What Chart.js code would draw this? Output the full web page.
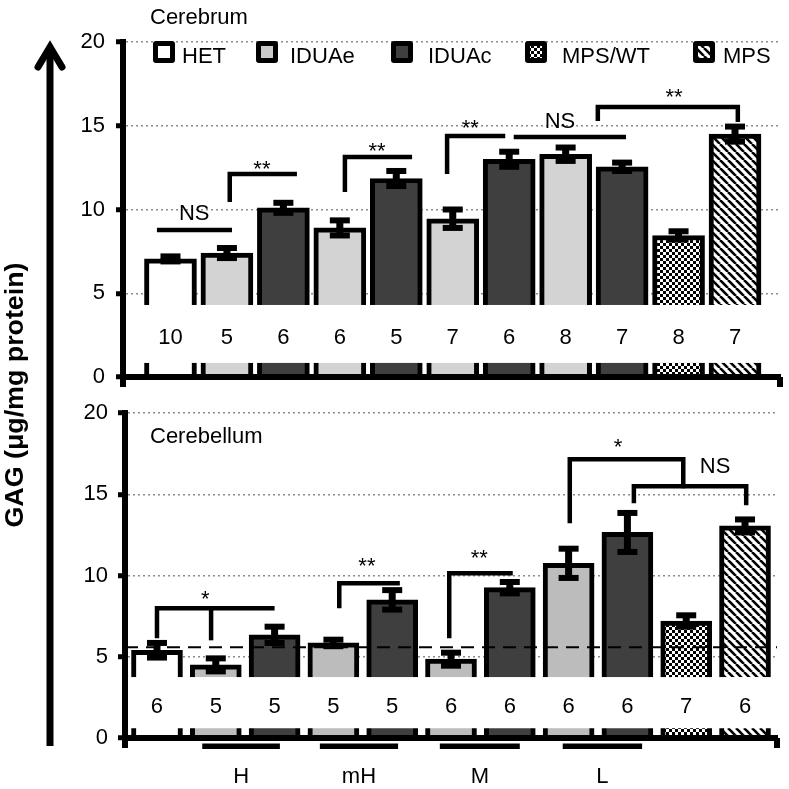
<!DOCTYPE html>
<html>
<head>
<meta charset="utf-8">
<script src="https://cdn.jsdelivr.net/npm/chart.js@4.4.1/dist/chart.umd.min.js"></script>
<style>
  html, body { margin: 0; padding: 0; background: #fff; }
  #wrap { position: relative; width: 789px; height: 789px; }
  #wrap canvas { position: absolute; left: 0; top: 0; }
</style>
</head>
<body>
<div id="wrap">
  <canvas id="cerebrum" width="789" height="789"></canvas>
  <canvas id="cerebellum" width="789" height="789"></canvas>
</div>
<script>
// bar order is the same in both panels
const barKinds = ['HET', 'IDUAe', 'IDUAc', 'IDUAe', 'IDUAc', 'IDUAe', 'IDUAc', 'IDUAe', 'IDUAc', 'MPS/WT', 'MPS'];
const legendNames = ['HET', 'IDUAe', 'IDUAc', 'MPS/WT', 'MPS'];
const yTicks = [0, 5, 10, 15, 20];

// Cerebrum (top panel)
const cerebrumMeans = [7.05, 7.4, 10.1, 8.9, 11.85, 9.45, 13.0, 13.3, 12.55, 8.45, 14.5];
const cerebrumErrors = [0.15, 0.3, 0.3, 0.45, 0.45, 0.55, 0.45, 0.4, 0.25, 0.25, 0.45];
const cerebrumN = [10, 5, 6, 6, 5, 7, 6, 8, 7, 8, 7];

// Cerebellum (bottom panel)
const cerebellumMeans = [5.4, 4.5, 6.35, 5.85, 8.5, 4.85, 9.25, 10.75, 12.65, 7.2, 13.05];
const cerebellumErrors = [0.45, 0.4, 0.5, 0.2, 0.6, 0.4, 0.35, 0.9, 1.2, 0.35, 0.4];
const cerebellumN = [6, 5, 5, 5, 5, 6, 6, 6, 6, 7, 6];
const cerebellumHetLevel = 5.58;

// dose groups under the cerebellum axis
const doseGroups = ['H', 'mH', 'M', 'L'];
const doseSpans = [[0.77, 2.09], [2.77, 4.1], [4.81, 6.17], [6.9, 8.25]];

// significance brackets (x in bar index, y in GAG units)
const cerebrumStats = [
  { x1: -0.24, x2: 1.09, y: 8.78, text: 'NS', tx: 0.42, ty: 9.85 },
  { x1: 1.05, x2: 2.24, y: 12.12, foot1: 10.45, text: '**', tx: 1.62, ty: 12.66 },
  { x1: 3.09, x2: 4.28, y: 13.13, foot1: 11.04, text: '**', tx: 3.66, ty: 13.73 },
  { x1: 4.9, x2: 5.93, y: 14.39, foot1: 12.12, text: '**', tx: 5.31, ty: 15.1 },
  { x1: 6.08, x2: 8.07, y: 14.33, text: 'NS', tx: 6.9, ty: 15.34 },
  { x1: 7.57, x2: 10.05, y: 16.12, foot1: 15.28, foot2: 15.22, text: '**', tx: 8.92, ty: 16.96 }
];
const cerebellumStats = [
  { x1: 0, x2: 2.0, y: 7.98, foot1: 6.14, mid: 0.92, midFoot: 6.01, text: '*', tx: 0.82, ty: 8.78 },
  { x1: 3.1, x2: 4.13, y: 9.52, foot1: 7.98, text: '**', tx: 3.57, ty: 10.81 },
  { x1: 4.97, x2: 6.05, y: 10.14, foot1: 6.14, text: '**', tx: 5.48, ty: 11.3 },
  { x1: 7.02, x2: 8.95, y: 17.15, foot1: 13.21, foot2: 15.37, text: '*', tx: 7.84, ty: 18.13 },
  { x1: 8.11, x2: 10.02, y: 15.49, foot1: 14.44, foot2: 14.32, text: 'NS', tx: 9.49, ty: 16.75 }
];

Chart.defaults.font.family = '"Liberation Sans", Arial, sans-serif';
Chart.defaults.color = '#000';

function makePattern(kind) {
  const c = document.createElement('canvas');
  const g = c.getContext('2d');
  if (kind === 'checker') {
    c.width = 6; c.height = 6;
    g.fillStyle = '#fff'; g.fillRect(0, 0, 6, 6);
    g.fillStyle = '#000'; g.fillRect(0, 0, 3, 3); g.fillRect(3, 3, 3, 3);
  } else {
    c.width = 8; c.height = 8;
    g.fillStyle = '#fff'; g.fillRect(0, 0, 8, 8);
    g.strokeStyle = '#000'; g.lineWidth = 2.6;
    for (let k = -1; k <= 1; k++) {
      g.beginPath(); g.moveTo(k * 8, 0); g.lineTo(k * 8 + 8, 8); g.stroke();
    }
  }
  return g.createPattern(c, 'repeat');
}
const checker = makePattern('checker');
const hatch = makePattern('hatch');

function fillsFor(light) {
  return { 'HET': '#ffffff', 'IDUAe': light, 'IDUAc': '#3f3f3f', 'MPS/WT': checker, 'MPS': hatch };
}

function centerText(ctx, text, x, y) {
  const m = ctx.measureText(text);
  ctx.fillText(text, x, y + (m.actualBoundingBoxAscent - m.actualBoundingBoxDescent) / 2);
}

// bands, error bars, n labels and significance marks
function decorPlugin(p) {
  return {
    id: 'decor',
    afterDatasetsDraw(chart) {
      const ctx = chart.ctx, xs = chart.scales.x, ys = chart.scales.y, area = chart.chartArea;
      ctx.save();
      // white strip holding the n values
      const bTop = ys.getPixelForValue(p.band[1]), bBot = ys.getPixelForValue(p.band[0]);
      ctx.fillStyle = '#fff';
      ctx.fillRect(area.left + 3, bTop, area.right - area.left - 3, bBot - bTop);

      if (p.hetLevel !== undefined) {
        const yl = ys.getPixelForValue(p.hetLevel);
        ctx.strokeStyle = '#000'; ctx.lineWidth = 2; ctx.setLineDash([13, 8]);
        ctx.beginPath(); ctx.moveTo(area.left, yl); ctx.lineTo(area.right, yl); ctx.stroke();
        ctx.setLineDash([]);
      }

      // error bars
      ctx.fillStyle = '#000';
      p.means.forEach((m, i) => {
        const x = xs.getPixelForValue(i);
        const yHi = ys.getPixelForValue(m + p.errors[i]);
        const yLo = ys.getPixelForValue(m - p.errors[i]);
        ctx.fillRect(x - 3.5, yHi, 7, yLo - yHi);
        ctx.fillRect(x - 10, yHi - 3, 20, 6);
        ctx.fillRect(x - 10, yLo - 3, 20, 6);
      });

      // n per group
      ctx.font = '22px "Liberation Sans", Arial, sans-serif';
      ctx.textAlign = 'center'; ctx.textBaseline = 'alphabetic';
      p.n.forEach((n, i) => centerText(ctx, String(n), xs.getPixelForValue(i), ys.getPixelForValue(p.nY)));

      // brackets
      ctx.strokeStyle = '#000'; ctx.lineWidth = 4.5; ctx.lineCap = 'butt'; ctx.lineJoin = 'miter';
      p.stats.forEach(s => {
        const X = v => xs.getPixelForValue(v), Y = v => ys.getPixelForValue(v);
        ctx.beginPath();
        if (s.foot1 !== undefined) { ctx.moveTo(X(s.x1), Y(s.foot1)); ctx.lineTo(X(s.x1), Y(s.y)); }
        else ctx.moveTo(X(s.x1), Y(s.y));
        ctx.lineTo(X(s.x2), Y(s.y));
        if (s.foot2 !== undefined) ctx.lineTo(X(s.x2), Y(s.foot2));
        ctx.stroke();
        if (s.mid !== undefined) {
          ctx.beginPath(); ctx.moveTo(X(s.mid), Y(s.y)); ctx.lineTo(X(s.mid), Y(s.midFoot)); ctx.stroke();
        }
        centerText(ctx, s.text, X(s.tx), Y(s.ty));
      });
      ctx.restore();
    },
    afterDraw(chart) {
      const ctx = chart.ctx, area = chart.chartArea;
      ctx.save();
      // little axis ends below the baseline
      ctx.fillStyle = '#000';
      ctx.fillRect(area.left - 3, area.bottom, 6, 10);
      ctx.fillRect(area.right - 3, area.bottom, 6, 10);
      ctx.font = '22px "Liberation Sans", Arial, sans-serif';
      ctx.textAlign = 'left'; ctx.textBaseline = 'alphabetic';
      centerText(ctx, p.title, 150, p.titleY);
      if (p.extra) p.extra(chart, ctx);
      ctx.restore();
    }
  };
}

function drawLegendAndAxisTitle(chart, ctx) {
  const fills = fillsFor('#c9c9c9');
  const boxX = [153, 256, 391, 525, 693];
  const textX = [182, 290, 428, 562, 723];
  legendNames.forEach((name, i) => {
    ctx.fillStyle = '#000';
    ctx.beginPath(); ctx.roundRect(boxX[i], 41, 22, 22, 3); ctx.fill();
    ctx.fillStyle = fills[name];
    ctx.fillRect(boxX[i] + 5, 46, 12, 12);
    ctx.fillStyle = '#000';
    centerText(ctx, name, textX[i], 55);
  });

  // shared y axis arrow
  ctx.strokeStyle = '#000'; ctx.lineWidth = 7;
  ctx.beginPath(); ctx.moveTo(50, 746); ctx.lineTo(50, 48); ctx.stroke();
  ctx.lineCap = 'round'; ctx.lineJoin = 'miter';
  ctx.beginPath(); ctx.moveTo(38, 67); ctx.lineTo(50, 47); ctx.lineTo(62, 67); ctx.stroke();

  ctx.save();
  ctx.translate(16, 395); ctx.rotate(-Math.PI / 2);
  ctx.font = 'bold 25px "Liberation Sans", Arial, sans-serif';
  const label = 'GAG (\u03bcg/mg protein)';
  const w = ctx.measureText(label).width;
  ctx.scale(265 / w, 1);
  ctx.textAlign = 'center'; ctx.fillStyle = '#000';
  centerText(ctx, label, 0, 0);
  ctx.restore();
}

function drawDoseLines(chart, ctx) {
  const xs = chart.scales.x, y = chart.chartArea.bottom + 8;
  ctx.fillStyle = '#000';
  doseSpans.forEach(sp => {
    const a = xs.getPixelForValue(sp[0]), b = xs.getPixelForValue(sp[1]);
    ctx.fillRect(a, y - 2.5, b - a, 5.5);
  });
}

function panel(id, p) {
  const fills = fillsFor(p.light);
  return new Chart(document.getElementById(id), {
    type: 'bar',
    data: {
      datasets: [{
        data: p.means.map((v, i) => ({ x: i, y: v })),
        backgroundColor: barKinds.map(k => fills[k]),
        borderColor: '#000',
        borderWidth: 5,
        borderSkipped: 'start',
        barThickness: p.barWidth
      }]
    },
    options: {
      responsive: false,
      animation: false,
      devicePixelRatio: 1,
      layout: { padding: { top: p.top, right: p.right, left: 0, bottom: 0 } },
      plugins: { legend: { display: false }, tooltip: { enabled: false } },
      scales: {
        x: {
          type: 'linear', min: p.xMin, max: p.xMax, offset: false,
          grid: { display: false, drawTicks: false },
          border: { color: '#000', width: 6, z: 1 },
          afterBuildTicks: s => { s.ticks = p.groups ? doseSpans.map(sp => ({ value: (sp[0] + sp[1]) / 2 })) : []; },
          ticks: {
            display: !!p.groups, autoSkip: false, maxRotation: 0, padding: 26,
            font: { size: 22 }, color: '#000',
            callback: (v, i) => doseGroups[i]
          },
          afterFit: s => { s.height = p.xHeight; }
        },
        y: {
          min: 0, max: 20,
          afterBuildTicks: s => { s.ticks = yTicks.map(v => ({ value: v })); },
          ticks: { font: { size: 22 }, color: '#000', padding: p.tickPad },
          grid: { color: '#8c8c8c', lineWidth: 1.5, tickColor: '#000', tickWidth: 5, tickLength: 7, tickBorderDash: [] },
          border: { color: '#000', width: 6, dash: [2, 3], z: 1 },
          afterFit: s => { s.width = p.yWidth; }
        }
      }
    },
    plugins: [decorPlugin(p)]
  });
}

panel('cerebrum', {
  means: cerebrumMeans, errors: cerebrumErrors, n: cerebrumN, stats: cerebrumStats,
  light: '#d3d3d3', barWidth: 52, top: 42, right: 9, xHeight: 412, yWidth: 123, tickPad: 11,
  xMin: -0.841, xMax: 10.797, band: [0.84, 4.3], nY: 2.39,
  title: 'Cerebrum', titleY: 16, extra: drawLegendAndAxisTitle
});

panel('cerebellum', {
  means: cerebellumMeans, errors: cerebellumErrors, n: cerebellumN, stats: cerebellumStats,
  hetLevel: cerebellumHetLevel, groups: true,
  light: '#bcbcbc', barWidth: 51, top: 413, right: 12, xHeight: 51, yWidth: 125, tickPad: 10,
  xMin: -0.544, xMax: 10.544, band: [0.6, 3.75], nY: 2.03,
  title: 'Cerebellum', titleY: 435, extra: drawDoseLines
});
</script>
</body>
</html>
